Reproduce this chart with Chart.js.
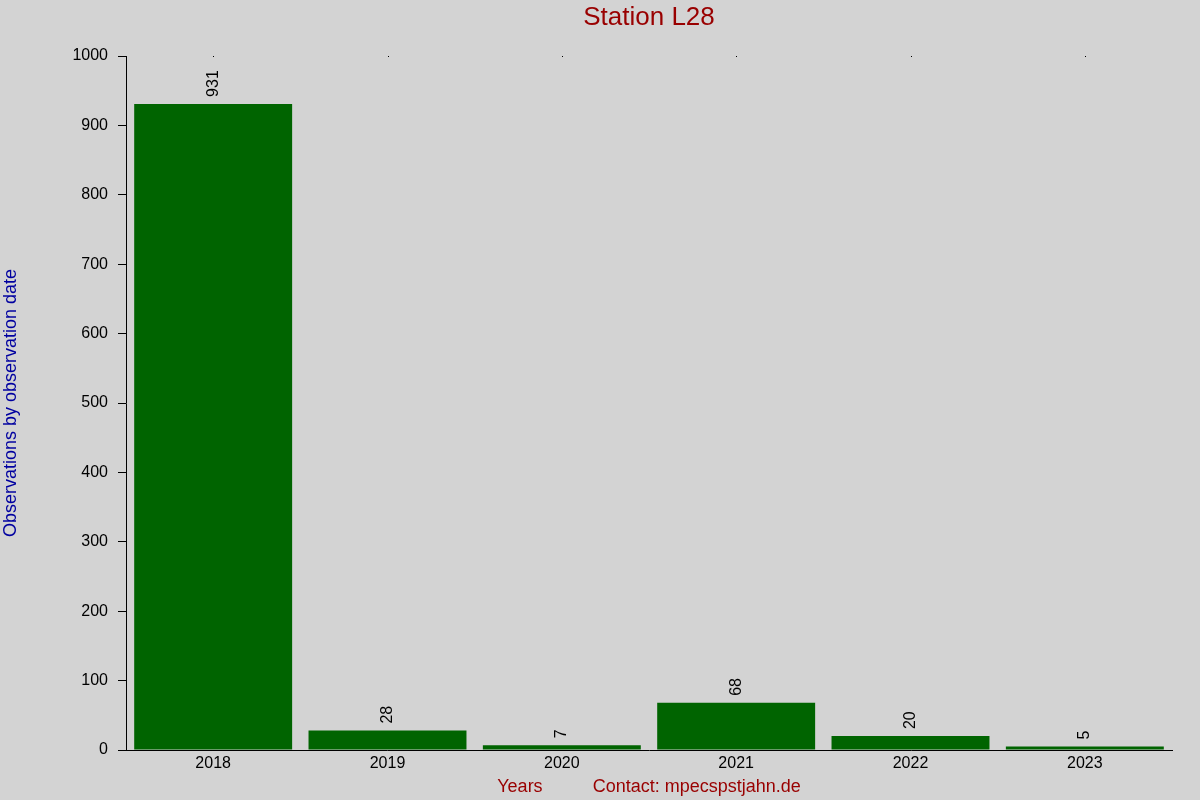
<!DOCTYPE html>
<html>
<head>
<meta charset="utf-8">
<script src="https://cdn.jsdelivr.net/npm/chart.js@4/dist/chart.umd.min.js"></script>
<style>
    html, body { margin: 0; padding: 0; background: #d3d3d3; }
    #wrap { width: 1200px; height: 800px; }
</style>
</head>
<body>
<div id="wrap"><canvas id="obsChart"></canvas></div>
<script>
const years = ['2018', '2019', '2020', '2021', '2022', '2023']
const observations = [931, 28, 7, 68, 20, 5]
const yTicks = [0, 100, 200, 300, 400, 500, 600, 700, 800, 900, 1000]

const font = 'Liberation Sans, Arial, sans-serif'

// background, title over the plot area, value labels and top dots
const extras = {
    id: 'extras',
    beforeDraw: chart => {
        const ctx = chart.ctx
        ctx.save()
        ctx.fillStyle = '#d3d3d3'
        ctx.fillRect(0, 0, chart.width, chart.height)
        ctx.restore()
    },
    afterDraw: chart => {
        const ctx = chart.ctx
        const area = chart.chartArea
        const xs = chart.scales.x
        ctx.save()
        ctx.fillStyle = '#990000'
        ctx.font = '26px ' + font
        ctx.textAlign = 'center'
        ctx.textBaseline = 'middle'
        ctx.fillText('Station L28', (area.left + area.right) / 2, 18)

        ctx.fillStyle = '#000'
        for (let i in years) {
            ctx.fillRect(Math.round(xs.getPixelForValue(+i)), area.top, 1, 1)
        }

        const meta = chart.getDatasetMeta(0)
        ctx.font = '16px ' + font
        ctx.textAlign = 'left'
        ctx.textBaseline = 'middle'
        meta.data.forEach((bar, i) => {
            ctx.save()
            ctx.translate(bar.x, bar.y - 7)
            ctx.rotate(-Math.PI / 2)
            ctx.fillText(String(observations[i]), 0, 0)
            ctx.restore()
        })
        ctx.restore()
    }
}

new Chart(document.getElementById('obsChart'), {
    type: 'bar',
    data: {
        labels: years,
        datasets: [{
            data: observations,
            backgroundColor: '#006400',
            borderWidth: 0,
            categoryPercentage: 0.906,
            barPercentage: 1
        }]
    },
    options: {
        responsive: true,
        maintainAspectRatio: false,
        animation: false,
        layout: { padding: { top: 56, right: 28, bottom: 0, left: 0 } },
        plugins: {
            legend: { display: false },
            tooltip: { enabled: false },
            title: { display: false }
        },
        scales: {
            x: {
                grid: { display: false, drawTicks: false },
                border: { display: true, color: '#000', width: 1 },
                ticks: { color: '#000', font: { family: font, size: 16 }, padding: 4 },
                title: {
                    display: true,
                    text: 'Years          Contact: mpecspstjahn.de',
                    color: '#990000',
                    font: { family: font, size: 18 },
                    padding: { top: 0, bottom: 2 }
                },
                afterFit: scale => { scale.height = 50 }
            },
            y: {
                min: 0,
                max: 1000,
                afterBuildTicks: scale => { scale.ticks = yTicks.map(v => ({ value: v })) },
                grid: { drawOnChartArea: false, drawTicks: true, tickLength: 8, color: '#000' },
                border: { display: true, color: '#000', width: 1 },
                ticks: {
                    color: '#000',
                    font: { family: font, size: 16 },
                    padding: 10,
                    callback: v => String(v)
                },
                title: {
                    display: true,
                    text: 'Observations by observation date',
                    color: '#0000a0',
                    font: { family: font, size: 18 },
                    padding: 0
                },
                afterFit: scale => { scale.width = 126 }
            }
        }
    },
    plugins: [extras]
})
</script>
</body>
</html>
